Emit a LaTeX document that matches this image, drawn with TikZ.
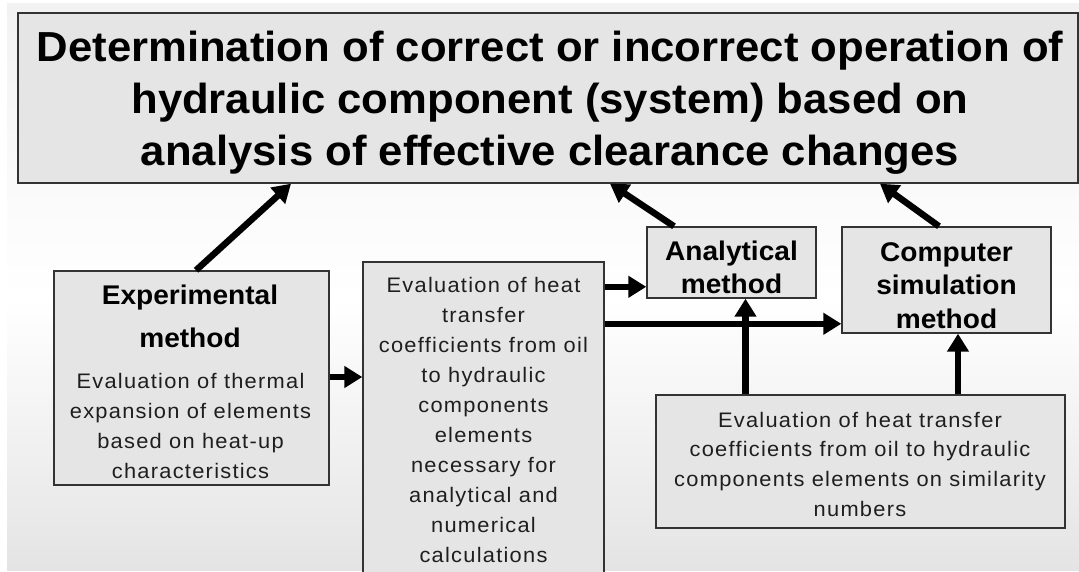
\documentclass[tikz,border=0pt]{standalone}
\usepackage{fontspec}
\setmainfont{Liberation Sans}
\newfontfamily\hfont[FakeStretch=1.04]{Liberation Sans}
\newfontfamily\sfont[FakeStretch=1.04,LetterSpace=6]{Liberation Sans}
\usetikzlibrary{arrows.meta,calc}
\definecolor{boxgray}{HTML}{E5E5E5}
\definecolor{edgegray}{HTML}{333333}
\definecolor{txtgray}{HTML}{1E1E1E}
\definecolor{bgtop}{HTML}{F2F2F2}
\definecolor{bgbot}{HTML}{E4E4E4}
\begin{document}
\begin{tikzpicture}[x=1pt,y=-1pt,
  box/.style={draw=edgegray, line width=1.4pt, fill=boxgray, inner sep=0pt, rectangle},
  bigtxt/.style={anchor=base, align=center, inner sep=0pt, font=\hfont\bfseries\fontsize{42}{52}\selectfont},
  headtxt/.style={anchor=base, align=center, inner sep=0pt, font=\hfont\bfseries\fontsize{27}{32.5}\selectfont},
  smalltxt/.style={anchor=base, align=center, inner sep=0pt, text=txtgray, font=\sfont\fontsize{21}{30}\selectfont},
  arr/.style={line width=6.5pt, -{Triangle[length=18pt,width=21pt]}}
]
% background
\useasboundingbox (0,0) rectangle (1079,572);
\fill[white] (0,0) rectangle (1079,572);
\shade[top color=bgtop, bottom color=white] (7,4) rectangle (1079,300);
\shade[top color=white, bottom color=bgbot] (7,300) rectangle (1079,570);

% boxes
\node[box, minimum width=1060pt, minimum height=170pt] (title) at (548,98) {};
\node[box, minimum width=275pt, minimum height=214pt] (exp) at (191.5,378) {};
\node[box, minimum width=241pt, minimum height=338pt] (mid) at (483.5,431) {};
\node[box, minimum width=169pt, minimum height=71pt] (ana) at (731.5,262.5) {};
\node[box, minimum width=209pt, minimum height=106pt] (comp) at (946.5,280) {};
\node[box, minimum width=409pt, minimum height=133pt] (bot) at (860.5,461.5) {};

% texts (anchor=base is the baseline of the last line)
\node[bigtxt] (titletext) at (550,165.7) {Determination of correct or incorrect operation of\\hydraulic component (system) based on\\analysis of effective clearance changes};
\node[headtxt, font=\hfont\bfseries\fontsize{27}{43}\selectfont] (exphead) at (190,347) {Experimental\\method};
\node[smalltxt] (exptext) at (190.5,478.3) {Evaluation of thermal\\expansion of elements\\based on heat-up\\characteristics};
\node[smalltxt] (midtext) at (483.5,562.7) {Evaluation of heat\\transfer\\coefficients from oil\\to hydraulic\\components\\elements\\necessary for\\analytical and\\numerical\\calculations};
\node[headtxt] (anatext) at (731.5,293.5) {Analytical\\method};
\node[headtxt, font=\hfont\bfseries\fontsize{27}{33.5}\selectfont] (comptext) at (946.5,328) {Computer\\simulation\\method};
\node[smalltxt, font=\sfont\fontsize{21}{29.7}\selectfont] (bottext) at (860,516.1) {Evaluation of heat transfer\\coefficients from oil to hydraulic\\components elements on similarity\\numbers};

% connectors
\draw[arr] ([xshift=4.5pt]exp.north) -- ([xshift=-257pt]title.south);
\draw[arr] ([xshift=-57.5pt]ana.north) -- ([xshift=62pt]title.south);
\draw[arr] ([xshift=-7.5pt]comp.north) -- ([xshift=332pt]title.south);
\draw[arr] ([yshift=-25.5pt]mid.north east) -- ([yshift=-25.5pt]mid.north east -| ana.west);
\draw[arr] ([yshift=-62.5pt]mid.north east) -- ([yshift=-62.5pt]mid.north east -| comp.west);
\draw[arr] ([yshift=1pt]exp.east) -- ([yshift=1pt]exp.east -| mid.west);
\draw[arr] ([xshift=-115pt]bot.north) -- ([xshift=-115pt]bot.north |- ana.south);
\draw[arr] ([xshift=97.5pt]bot.north) -- ([xshift=97.5pt]bot.north |- comp.south);
\end{tikzpicture}
\end{document}
